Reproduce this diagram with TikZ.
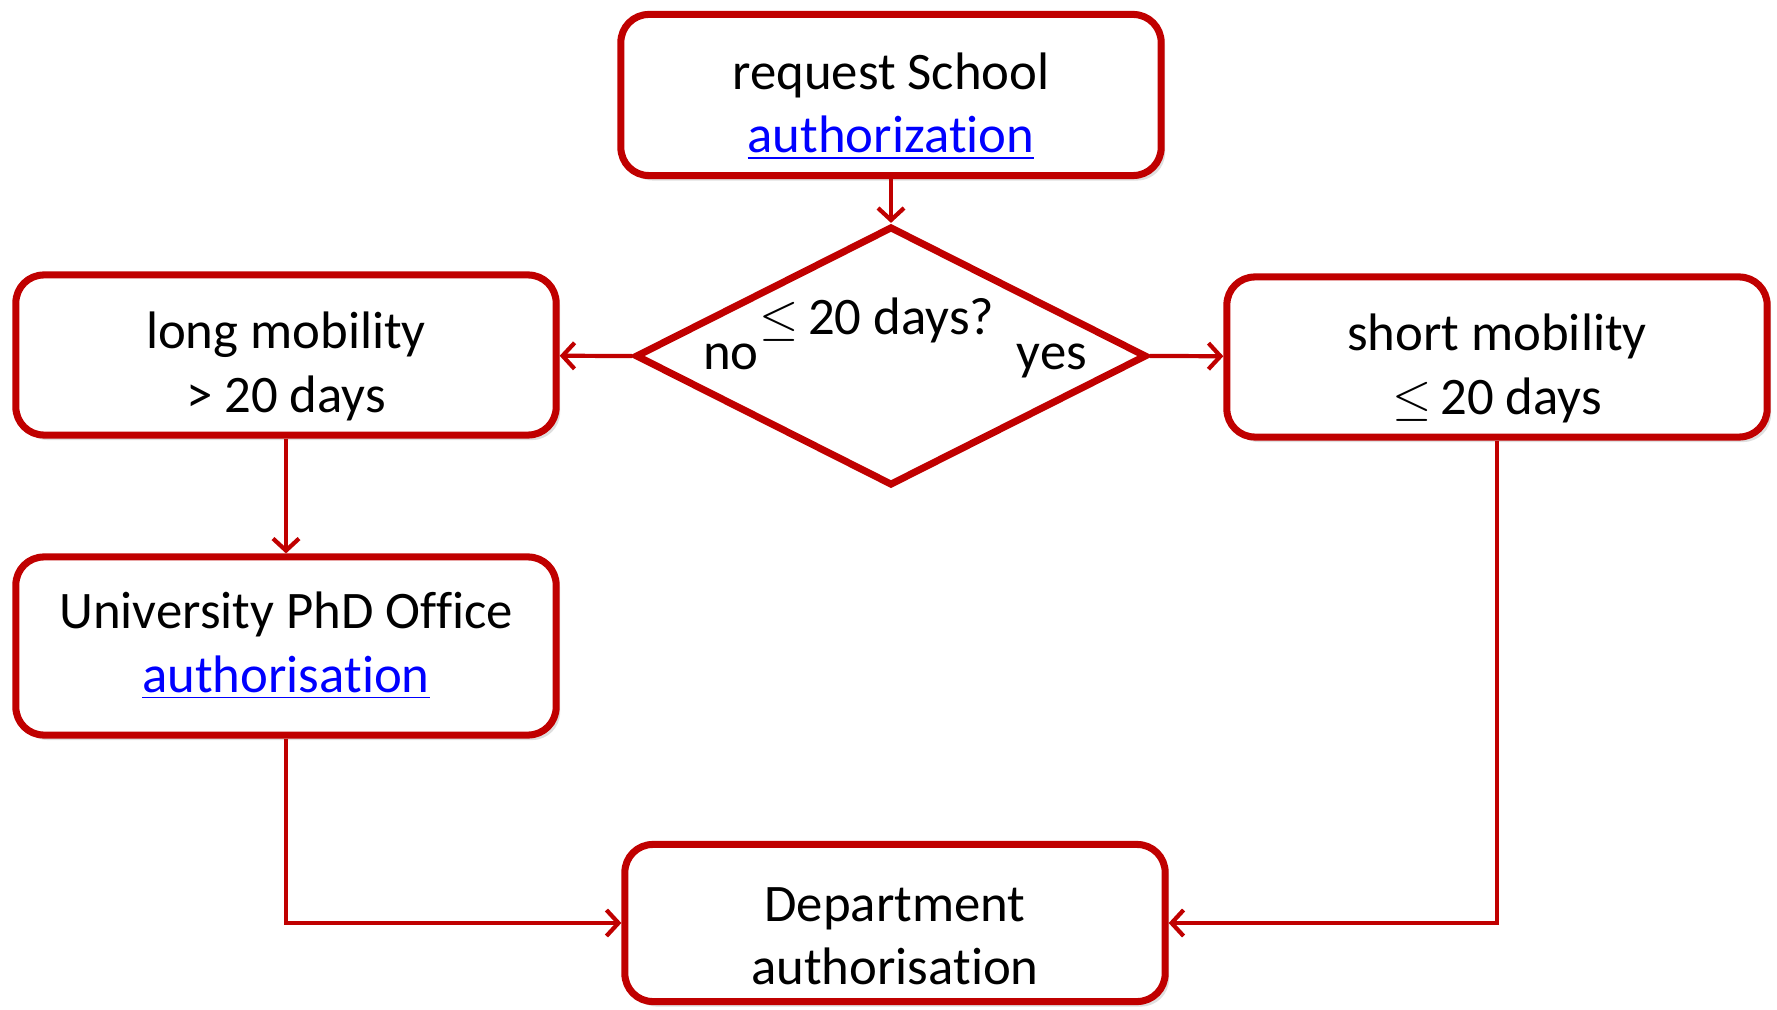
\documentclass[tikz,border=0pt]{standalone}
\usepackage{fontspec}
\setmainfont[Ligatures=NoCommon]{Carlito}
\usetikzlibrary{shapes.geometric,arrows.meta,shadows}
\definecolor{redder}{RGB}{192,0,0}
\definecolor{linkblue}{RGB}{0,0,255}
\newcommand{\lnk}[1]{\textcolor{linkblue}{\underline{#1}}}
\newcommand{\tp}{\rule{0pt}{17pt}}

\begin{document}
\begin{tikzpicture}[x=0.01cm,y=-0.01cm,bx/.style ={draw=redder, line width=2pt, rounded corners=0.28cm, fill=white, align=center, minimum width=5.4cm, font=\fontsize{15}{18}\selectfont, drop shadow={opacity=.25, shadow xshift=.04cm, shadow yshift=-.05cm}},dcs/.style ={draw=redder, line width=2pt, diamond, inner sep=0pt, minimum width=5.11cm, minimum height=2.59cm, fill=white},lbl/.style ={font=\fontsize{15}{18}\selectfont, inner sep=0pt, anchor=base},arr/.style ={draw=redder, line width=1.2pt, -{Straight Barb[length=0.12cm,width=0.26cm]}}]

\useasboundingbox (0,0) rectangle (1777,1010);

%top request and decision
\node[bx, minimum height=1.61cm] at (891,95) (req){\tp request School\\\lnk{authorization}};
\node[dcs] at (891,356) (dec){};
\node[lbl] at (877,335) (q){$\leq$\,20 days?};
\node[lbl] at (731,370) (no){no};
\node[lbl] at (1052,370) (yes){yes};

%the two branches
\node[bx, minimum height=1.6cm] at (286,355) (long){\tp long mobility\\> 20 days};
\node[bx, minimum height=1.6cm] at (1497,357) (short){\tp short mobility\\$\leq$\,20 days};
\node[bx, minimum height=1.78cm] at (286,646) (uni){University PhD Office\\\lnk{authorisation}};

%final step
\node[bx, minimum height=1.57cm] at (895,923) (dept){\tp Department\\authorisation};

%connectors
\draw[arr] (req) -- (dec);
\draw[arr] (dec.west) -- (long);
\draw[arr] (dec.east) -- (short);
\draw[arr] (long) -- (uni);
\draw[arr] (uni) |- (dept);
\draw[arr] (short) |- (dept);
\end{tikzpicture}
\end{document}
